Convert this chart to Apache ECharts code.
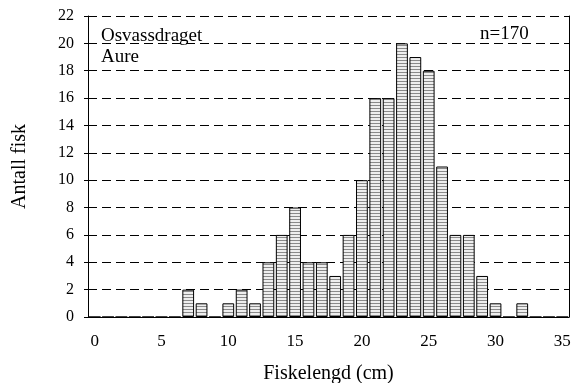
<!DOCTYPE html>
<html>
<head>
<meta charset="utf-8">
<script src="https://cdn.jsdelivr.net/npm/echarts@6/dist/echarts.min.js"></script>
<style>
  html, body { margin: 0; padding: 0; background: #fff; }
  #chart { width: 571px; height: 383px; }
</style>
</head>
<body>
<div id="chart"></div>
<script>
// fish length classes (cm) and counts
const lengths = Array.from({ length: 36 }, (_, i) => String(i));
const counts = [
  0, 0, 0, 0, 0, 0, 0, 2, 1, 0,
  1, 2, 1, 4, 6, 8, 4, 4, 3, 6,
  10, 16, 16, 20, 19, 18, 11, 6, 6, 3,
  1, 0, 1, 0, 0, 0
];
const yTicks = { min: 0, max: 22, interval: 2 };

// horizontal stripe fill
function stripes() {
  const c = document.createElement("canvas");
  c.width = 4;
  c.height = 3;
  const ctx = c.getContext("2d");
  ctx.fillStyle = "#eeeeee";
  ctx.fillRect(0, 0, 4, 3);
  ctx.fillStyle = "#8a8a8a";
  ctx.fillRect(0, 0, 4, 1);
  return c;
}

const font = "'Liberation Serif', 'DejaVu Serif', serif";
const chart = echarts.init(document.getElementById("chart"));
chart.setOption({
  animation: false,
  textStyle: { fontFamily: font, color: "#000" },
  grid: { left: 88, right: 2, top: 16, bottom: 66, outerBoundsMode: "none", containLabel: false },
  xAxis: {
    type: "category",
    data: lengths,
    name: "Fiskelengd (cm)",
    nameLocation: "middle",
    nameGap: 47,
    nameTextStyle: { fontFamily: font, fontSize: 20, color: "#000" },
    axisLine: { lineStyle: { color: "#000", width: 1 } },
    axisTick: { alignWithLabel: true, interval: 0, length: 7, lineStyle: { color: "#000" } },
    axisLabel: { interval: 4, fontFamily: font, fontSize: 17, color: "#000", margin: 16 },
  },
  yAxis: [
    {
      type: "value",
      min: yTicks.min,
      max: yTicks.max,
      interval: yTicks.interval,
      name: "Antall fisk",
      nameLocation: "middle",
      nameGap: 58,
      nameTextStyle: { fontFamily: font, fontSize: 20, color: "#000" },
      axisLine: { show: true, lineStyle: { color: "#000" } },
      axisTick: { show: true, length: 4, lineStyle: { color: "#000" } },
      axisLabel: { fontFamily: font, fontSize: 16, color: "#000", margin: 14 },
      splitLine: { lineStyle: { color: "#000", type: [9, 5], width: 1 } },
    },
    {
      type: "value",
      position: "right",
      min: yTicks.min,
      max: yTicks.max,
      interval: yTicks.interval,
      axisLine: { show: true, lineStyle: { color: "#000" } },
      axisTick: { show: false },
      axisLabel: { show: false },
      splitLine: { show: false },
    },
  ],
  series: [
    {
      type: "bar",
      data: counts,
      barCategoryGap: "12%",
      itemStyle: {
        color: { image: stripes(), repeat: "repeat" },
        borderColor: "#000",
        borderWidth: 1,
      },
    },
  ],
  graphic: [
    { type: "text", left: 101, top: 27, style: { text: "Osvassdraget", font: "19px " + font, fill: "#000" } },
    { type: "text", left: 101, top: 48, style: { text: "Aure", font: "19px " + font, fill: "#000" } },
    { type: "text", left: 480, top: 25, style: { text: "n=170", font: "19px " + font, fill: "#000" } },
  ],
});
</script>
</body>
</html>
